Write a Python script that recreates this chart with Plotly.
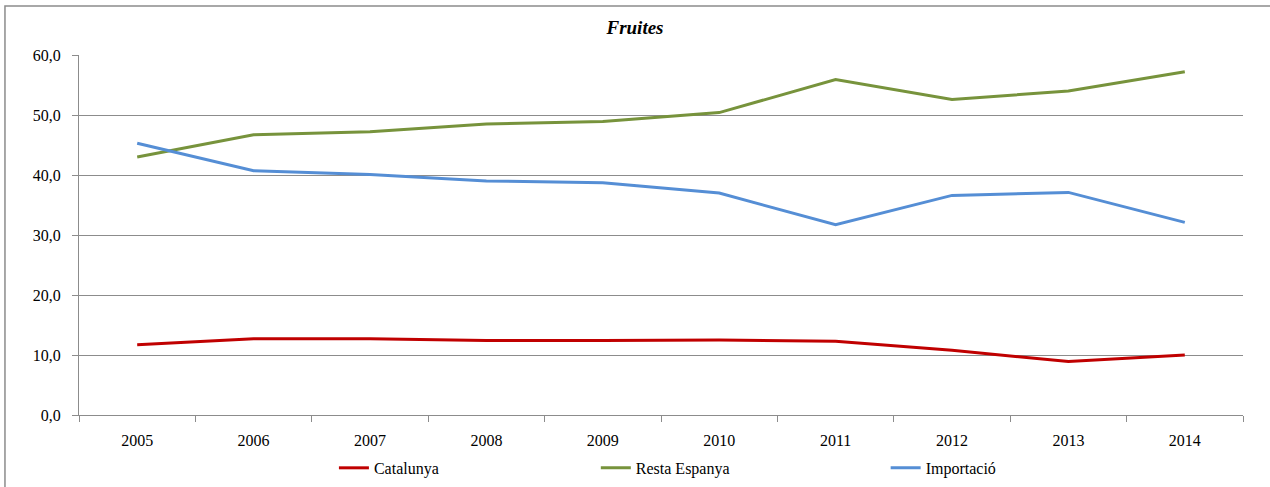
import plotly.graph_objects as go

years = ["2005", "2006", "2007", "2008", "2009", "2010", "2011", "2012", "2013", "2014"]
catalunya = [11.7, 12.7, 12.7, 12.4, 12.4, 12.5, 12.3, 10.8, 8.9, 10.0]
resta_espanya = [43.0, 46.7, 47.2, 48.5, 48.9, 50.4, 55.9, 52.6, 54.0, 57.2]
importacio = [45.3, 40.7, 40.1, 39.0, 38.7, 37.0, 31.7, 36.6, 37.1, 32.1]

SERIF = "Liberation Serif, Times New Roman, Times, serif"

fig = go.Figure()
fig.add_trace(go.Scatter(x=years, y=catalunya, name="Catalunya", mode="lines",
                         line=dict(color="#C00000", width=3), legend="legend"))
fig.add_trace(go.Scatter(x=years, y=resta_espanya, name="Resta Espanya", mode="lines",
                         line=dict(color="#77933C", width=3), legend="legend2"))
fig.add_trace(go.Scatter(x=years, y=importacio, name="Importació", mode="lines",
                         line=dict(color="#558ED5", width=3), legend="legend3"))

# chart frame (Excel style border, cut off on right and bottom)
fig.add_shape(type="rect", xref="paper", yref="paper",
              x0=-0.0636, x1=1.2, y0=-0.4, y1=1.136,
              line=dict(color="#8c8c8c", width=1.5), layer="below")

leg = dict(orientation="h", xanchor="left", y=-0.147, yanchor="middle",
           font=dict(size=16, family=SERIF), itemwidth=30, bgcolor="rgba(0,0,0,0)")

fig.update_layout(
    width=1270, height=487,
    margin=dict(l=79, r=27, t=55, b=72, autoexpand=False),
    paper_bgcolor="white", plot_bgcolor="white",
    font=dict(family=SERIF, size=16, color="black"),
    separators=",.",
    title=dict(text="<b><i>Fruites</i></b>", x=0.5, xanchor="center",
               y=0.944, yanchor="middle", font=dict(size=19, family=SERIF)),
    legend=dict(leg, x=0.219),
    legend2=dict(leg, x=0.444),
    legend3=dict(leg, x=0.693),
    showlegend=True,
)
fig.update_xaxes(type="category", showgrid=False, showline=True, linecolor="#8c8c8c",
                 linewidth=1, ticks="outside", ticklen=6, tickcolor="#8c8c8c",
                 tickson="boundaries", range=[-0.5, 9.5], ticklabelstandoff=11)
fig.update_yaxes(range=[0, 60], dtick=10, tickformat=".1f", showgrid=True,
                 gridcolor="#8c8c8c", gridwidth=1, showline=True, linecolor="#8c8c8c",
                 ticks="outside", ticklen=6, tickcolor="#8c8c8c", zeroline=False,
                 ticklabelstandoff=8)

fig.write_html("out.html", config={"displayModeBar": False},
               post_script="document.body.style.margin='0';")
